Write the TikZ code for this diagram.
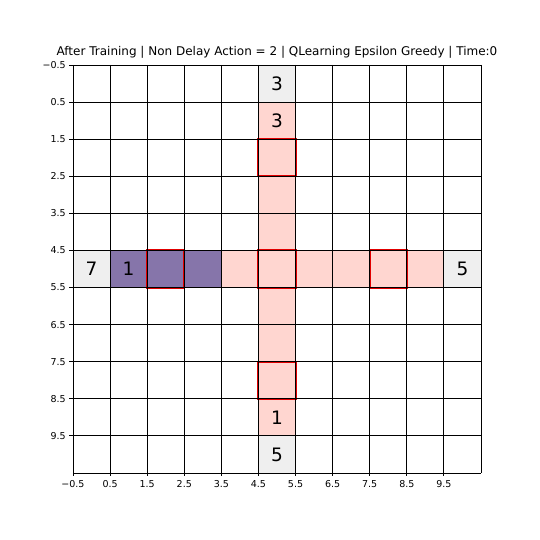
\documentclass[tikz,border=0pt]{standalone}
\usepackage{fontspec}
\setmainfont{DejaVu Sans}
\usetikzlibrary{calc}

\definecolor{cellgrey}{RGB}{239,239,239}
\definecolor{pathpink}{RGB}{255,214,208}
\definecolor{agentpurple}{RGB}{134,117,170}
\definecolor{boxred}{RGB}{225,0,0}

\begin{document}
\begin{tikzpicture}[x=37.09pt, y=-37.09pt,
    redbox/.style={draw=boxred, line width=2pt},
    gridline/.style={black, line width=0.8pt},
    cellnum/.style={font=\fontsize{18.5}{18}\selectfont, inner sep=0pt},
    ticklab/.style={font=\fontsize{9.5}{10}\selectfont, inner sep=0pt}]

    % Parameters
    \def\lo{-0.5}
    \def\hi{10.5}

    % Page size, margins included
    \useasboundingbox (-2.468,-2.252) rectangle (12.091,12.306);

    % Corridor cells
    \fill[pathpink] (4.5,0.5) rectangle (5.5,9.5);
    \fill[pathpink] (3.5,4.5) rectangle (9.5,5.5);
    \fill[agentpurple] (0.5,4.5) rectangle (3.5,5.5);

    % End cells
    \fill[cellgrey] (4.5,-0.5) rectangle (5.5,0.5);
    \fill[cellgrey] (4.5,9.5) rectangle (5.5,10.5);
    \fill[cellgrey] (-0.5,4.5) rectangle (0.5,5.5);
    \fill[cellgrey] (9.5,4.5) rectangle (10.5,5.5);

    % Marked cells
    \foreach \cx/\cy in {2/5, 5/5, 8/5, 5/2, 5/8}
      \draw[redbox] ($(\cx,\cy)+(-0.5,-0.5)$) rectangle ($(\cx,\cy)+(0.5,0.5)$);

    % Grid
    \foreach \v in {-0.5,0.5,...,10.5} {
      \draw[gridline] (\v,\lo) -- (\v,\hi);
      \draw[gridline] (\lo,\v) -- (\hi,\v);
    }

    % Cell numbers
    \node[cellnum] (top) at (5,0) {3};
    \node[cellnum] (topin) at (5,1) {3};
    \node[cellnum] (bottomin) at (5,9) {1};
    \node[cellnum] (bottom) at (5,10) {5};
    \node[cellnum] (left) at (0,5) {7};
    \node[cellnum] (leftin) at (1,5) {1};
    \node[cellnum] (right) at (10,5) {5};

    % Ticks and labels
    \foreach \v/\t in {-0.5/{−0.5}, 0.5/0.5, 1.5/1.5, 2.5/2.5, 3.5/3.5, 4.5/4.5,
                       5.5/5.5, 6.5/6.5, 7.5/7.5, 8.5/8.5, 9.5/9.5} {
      \draw[gridline] (\v,\hi) -- ++(0,-3.5pt);
      \node[ticklab, anchor=north] at ($(\v,\hi)+(0,-7pt)$) {\t};
      \draw[gridline] (\lo,\v) -- ++(-3.5pt,0);
      \node[ticklab, anchor=east] at ($(\lo,\v)+(-7pt,0)$) {\t};
    }

    % Title
    \node[anchor=south, inner sep=0pt, font=\fontsize{12}{12}\selectfont] (title)
      at ($(5,\lo)+(0,6pt)$)
      {After Training | Non Delay Action = 2 | QLearning Epsilon Greedy | Time:0};
\end{tikzpicture}
\end{document}
